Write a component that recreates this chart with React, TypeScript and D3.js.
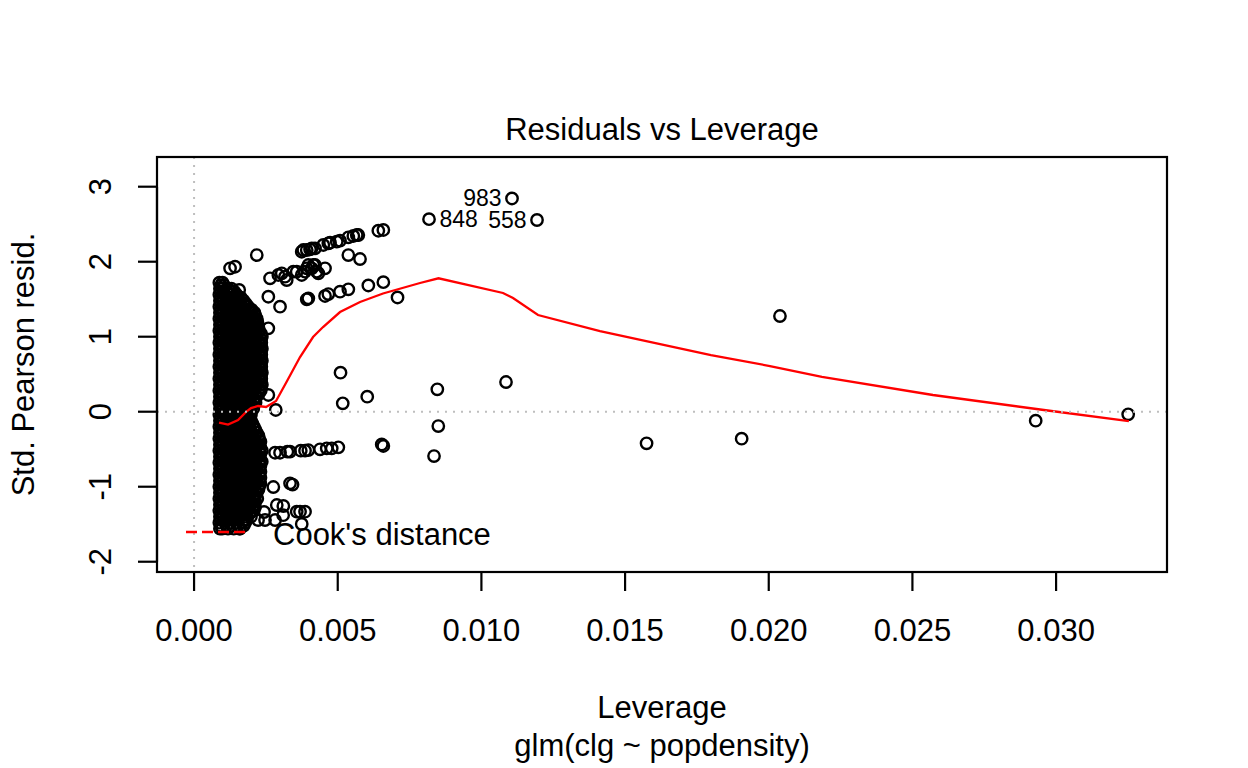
import React from 'react';
import * as d3 from 'd3';

// ---- axis ticks ----
const xTicks = [0, 0.005, 0.01, 0.015, 0.02, 0.025, 0.03];
const xTickLabels = ['0.000', '0.005', '0.010', '0.015', '0.020', '0.025', '0.030'];
const yTicks = [-2, -1, 0, 1, 2, 3];
const yTickLabels = ['-2', '-1', '0', '1', '2', '3'];

// ---- dense cluster of low-leverage observations: [std. Pearson residual, leverages] ----
const clusterRows: [number, number[]][] = [
  [1.72, [0.00088, 0.00099]],
  [1.64, [0.0009, 0.00098, 0.00118, 0.0013]],
  [1.56, [0.00088, 0.00108, 0.00128, 0.00148]],
  [1.48, [0.0009, 0.00098, 0.00118, 0.00138, 0.00158, 0.00172]],
  [1.4, [0.00088, 0.00108, 0.00128, 0.00148, 0.00168, 0.00188]],
  [1.32, [0.0009, 0.00098, 0.00118, 0.00138, 0.00158, 0.00178, 0.00198, 0.0021]],
  [1.24, [0.00088, 0.00108, 0.00128, 0.00148, 0.00168, 0.00188, 0.00208, 0.00218]],
  [1.16, [0.0009, 0.00098, 0.00118, 0.00138, 0.00158, 0.00178, 0.00198, 0.00218, 0.00222]],
  [1.08, [0.00088, 0.00108, 0.00128, 0.00148, 0.00168, 0.00188, 0.00208, 0.00226]],
  [1.0, [0.0009, 0.00098, 0.00118, 0.00138, 0.00158, 0.00178, 0.00198, 0.00218, 0.00236]],
  [0.92, [0.00088, 0.00108, 0.00128, 0.00148, 0.00168, 0.00188, 0.00208, 0.00226, 0.00234]],
  [0.84, [0.0009, 0.00098, 0.00118, 0.00138, 0.00158, 0.00178, 0.00198, 0.00218, 0.00236]],
  [0.76, [0.00088, 0.00108, 0.00128, 0.00148, 0.00168, 0.00188, 0.00208, 0.00226, 0.00234]],
  [0.68, [0.0009, 0.00098, 0.00118, 0.00138, 0.00158, 0.00178, 0.00198, 0.00218, 0.00236]],
  [0.6, [0.00088, 0.00108, 0.00128, 0.00148, 0.00168, 0.00188, 0.00208, 0.00226, 0.00234]],
  [0.52, [0.0009, 0.00098, 0.00118, 0.00138, 0.00158, 0.00178, 0.00198, 0.00218, 0.00236]],
  [0.44, [0.00088, 0.00108, 0.00128, 0.00148, 0.00168, 0.00188, 0.00208, 0.00226, 0.00234]],
  [0.36, [0.0009, 0.00098, 0.00118, 0.00138, 0.00158, 0.00178, 0.00198, 0.00218, 0.00236]],
  [0.28, [0.00088, 0.00108, 0.00128, 0.00148, 0.00168, 0.00188, 0.00208, 0.00226, 0.00232]],
  [0.2, [0.0009, 0.00098, 0.00118, 0.00138, 0.00158, 0.00178, 0.00198, 0.00218]],
  [0.12, [0.00088, 0.00108, 0.00128, 0.00148, 0.00168, 0.00188, 0.00208, 0.00214]],
  [0.04, [0.0009, 0.00098, 0.00118, 0.00138, 0.00158, 0.00178, 0.00198, 0.00206]],
  [-0.04, [0.00088, 0.00108, 0.00128, 0.00148, 0.00168, 0.00188, 0.00198]],
  [-0.12, [0.0009, 0.00098, 0.00118, 0.00138, 0.00158, 0.00178, 0.00198]],
  [-0.2, [0.00088, 0.00108, 0.00128, 0.00148, 0.00168, 0.00188, 0.00208]],
  [-0.28, [0.0009, 0.00098, 0.00118, 0.00138, 0.00158, 0.00178, 0.00198, 0.00218]],
  [-0.36, [0.00088, 0.00108, 0.00128, 0.00148, 0.00168, 0.00188, 0.00208, 0.00226]],
  [-0.44, [0.0009, 0.00098, 0.00118, 0.00138, 0.00158, 0.00178, 0.00198, 0.00218, 0.00226]],
  [-0.52, [0.00088, 0.00108, 0.00128, 0.00148, 0.00168, 0.00188, 0.00208, 0.00226, 0.00236]],
  [-0.6, [0.0009, 0.00098, 0.00118, 0.00138, 0.00158, 0.00178, 0.00198, 0.00218, 0.00226]],
  [-0.68, [0.00088, 0.00108, 0.00128, 0.00148, 0.00168, 0.00188, 0.00208, 0.00226]],
  [-0.76, [0.0009, 0.00098, 0.00118, 0.00138, 0.00158, 0.00178, 0.00198, 0.00218, 0.00226]],
  [-0.84, [0.00088, 0.00108, 0.00128, 0.00148, 0.00168, 0.00188, 0.00208, 0.00226]],
  [-0.92, [0.0009, 0.00098, 0.00118, 0.00138, 0.00158, 0.00178, 0.00198, 0.00218, 0.00226]],
  [-1.0, [0.00088, 0.00108, 0.00128, 0.00148, 0.00168, 0.00188, 0.00208, 0.00226]],
  [-1.08, [0.0009, 0.00098, 0.00118, 0.00138, 0.00158, 0.00178, 0.00198, 0.00218]],
  [-1.16, [0.00088, 0.00108, 0.00128, 0.00148, 0.00168, 0.00188, 0.00208, 0.0022]],
  [-1.24, [0.0009, 0.00098, 0.00118, 0.00138, 0.00158, 0.00178, 0.00198, 0.0021]],
  [-1.32, [0.00088, 0.00108, 0.00128, 0.00148, 0.00168, 0.00188, 0.00208]],
  [-1.4, [0.0009, 0.00098, 0.00118, 0.00138, 0.00158, 0.00178, 0.00198]],
  [-1.48, [0.00088, 0.00108, 0.00128, 0.00148, 0.00168, 0.00178]],
  [-1.56, [0.0009, 0.00098, 0.00118, 0.00138, 0.00158, 0.0016]],
  // in-between rows of the same cluster
  [1.68, [0.00093, 0.00105]],
  [1.6, [0.00093, 0.00113, 0.00133, 0.0014]],
  [1.52, [0.00093, 0.00113, 0.00133, 0.00153, 0.00163]],
  [1.44, [0.00093, 0.00113, 0.00133, 0.00153, 0.00173, 0.0018]],
  [1.36, [0.00093, 0.00113, 0.00133, 0.00153, 0.00173, 0.00193, 0.002]],
  [1.28, [0.00093, 0.00113, 0.00133, 0.00153, 0.00173, 0.00193, 0.00213]],
  [1.2, [0.00093, 0.00113, 0.00133, 0.00153, 0.00173, 0.00193, 0.00213, 0.0022]],
  [1.12, [0.00093, 0.00113, 0.00133, 0.00153, 0.00173, 0.00193, 0.00213, 0.00224]],
  [1.04, [0.00093, 0.00113, 0.00133, 0.00153, 0.00173, 0.00193, 0.00213, 0.00233]],
  [0.96, [0.00093, 0.00113, 0.00133, 0.00153, 0.00173, 0.00193, 0.00213, 0.00233]],
  [0.88, [0.00093, 0.00113, 0.00133, 0.00153, 0.00173, 0.00193, 0.00213, 0.00233]],
  [0.8, [0.00093, 0.00113, 0.00133, 0.00153, 0.00173, 0.00193, 0.00213, 0.00233]],
  [0.72, [0.00093, 0.00113, 0.00133, 0.00153, 0.00173, 0.00193, 0.00213, 0.00233]],
  [0.64, [0.00093, 0.00113, 0.00133, 0.00153, 0.00173, 0.00193, 0.00213, 0.00233]],
  [0.56, [0.00093, 0.00113, 0.00133, 0.00153, 0.00173, 0.00193, 0.00213, 0.00233]],
  [0.48, [0.00093, 0.00113, 0.00133, 0.00153, 0.00173, 0.00193, 0.00213, 0.00233]],
  [0.4, [0.00093, 0.00113, 0.00133, 0.00153, 0.00173, 0.00193, 0.00213, 0.00233]],
  [0.32, [0.00093, 0.00113, 0.00133, 0.00153, 0.00173, 0.00193, 0.00213, 0.00233]],
  [0.24, [0.00093, 0.00113, 0.00133, 0.00153, 0.00173, 0.00193, 0.00213, 0.00225]],
  [0.16, [0.00093, 0.00113, 0.00133, 0.00153, 0.00173, 0.00193, 0.00213]],
  [0.08, [0.00093, 0.00113, 0.00133, 0.00153, 0.00173, 0.00193, 0.00203]],
  [0.0, [0.00093, 0.00113, 0.00133, 0.00153, 0.00173, 0.00193]],
  [-0.08, [0.00093, 0.00113, 0.00133, 0.00153, 0.00173, 0.00193]],
  [-0.16, [0.00093, 0.00113, 0.00133, 0.00153, 0.00173, 0.00193, 0.00203]],
  [-0.24, [0.00093, 0.00113, 0.00133, 0.00153, 0.00173, 0.00193, 0.00213]],
  [-0.32, [0.00093, 0.00113, 0.00133, 0.00153, 0.00173, 0.00193, 0.00213, 0.00224]],
  [-0.4, [0.00093, 0.00113, 0.00133, 0.00153, 0.00173, 0.00193, 0.00213, 0.00231]],
  [-0.48, [0.00093, 0.00113, 0.00133, 0.00153, 0.00173, 0.00193, 0.00213, 0.00231]],
  [-0.56, [0.00093, 0.00113, 0.00133, 0.00153, 0.00173, 0.00193, 0.00213, 0.00231]],
  [-0.64, [0.00093, 0.00113, 0.00133, 0.00153, 0.00173, 0.00193, 0.00213, 0.00231]],
  [-0.72, [0.00093, 0.00113, 0.00133, 0.00153, 0.00173, 0.00193, 0.00213, 0.00231]],
  [-0.8, [0.00093, 0.00113, 0.00133, 0.00153, 0.00173, 0.00193, 0.00213, 0.00231]],
  [-0.88, [0.00093, 0.00113, 0.00133, 0.00153, 0.00173, 0.00193, 0.00213, 0.00231]],
  [-0.96, [0.00093, 0.00113, 0.00133, 0.00153, 0.00173, 0.00193, 0.00213, 0.00231]],
  [-1.04, [0.00093, 0.00113, 0.00133, 0.00153, 0.00173, 0.00193, 0.00213, 0.00224]],
  [-1.12, [0.00093, 0.00113, 0.00133, 0.00153, 0.00173, 0.00193, 0.00213]],
  [-1.2, [0.00093, 0.00113, 0.00133, 0.00153, 0.00173, 0.00193, 0.00213]],
  [-1.28, [0.00093, 0.00113, 0.00133, 0.00153, 0.00173, 0.00193, 0.00203]],
  [-1.36, [0.00093, 0.00113, 0.00133, 0.00153, 0.00173, 0.00193]],
  [-1.44, [0.00093, 0.00113, 0.00133, 0.00153, 0.00173, 0.00183]],
  [-1.52, [0.00093, 0.00113, 0.00133, 0.00153, 0.00173]],
];

// ---- the remaining observations ----
const obsLev = [
  0.001253, 0.001427, 0.002182, 0.00157, 0.002585, 0.002992, 0.002585, 0.002644, 0.002933, 0.003052,
  0.003166, 0.003225, 0.003455, 0.003573, 0.003747, 0.003862, 0.003921, 0.003977, 0.004095, 0.004151,
  0.00421, 0.004269, 0.004325, 0.004558, 0.003747, 0.003803, 0.003921, 0.004036, 0.004095, 0.00421,
  0.004499, 0.004673, 0.004732, 0.004965, 0.00508, 0.005369, 0.005543, 0.005661, 0.005717, 0.006413,
  0.006587, 0.005369, 0.005776, 0.003921, 0.003977, 0.004558, 0.004673, 0.00508, 0.005369, 0.006065,
  0.006587, 0.007081,
  0.002585, 0.002843,
  0.005097, 0.005174, 0.006027, 0.008466, 0.0085, 0.008351, 0.010856, 0.015748, 0.019057, 0.02039,
  0.02929, 0.032509,
  0.002356, 0.002818, 0.002992, 0.003246, 0.00334, 0.003713, 0.003862, 0.003977, 0.004384, 0.004617,
  0.004791, 0.005021, 0.006531, 0.006587,
  0.002759, 0.00334, 0.003427, 0.002122, 0.002878, 0.003107, 0.003573, 0.003688, 0.003862, 0.003747,
  0.002436, 0.002227, 0.00247, 0.00282, 0.0031,
];
const obsRes = [
  1.912, 1.933, 2.089, 1.623, 1.533, 1.4, 1.112, 1.779, 1.823, 1.845,
  1.8, 1.756, 1.867, 1.867, 1.823, 1.867, 1.912, 1.956, 1.912, 1.956,
  1.956, 1.867, 1.845, 1.912, 2.133, 2.156, 2.156, 2.165, 2.179, 2.179,
  2.223, 2.245, 2.253, 2.267, 2.28, 2.325, 2.343, 2.356, 2.356, 2.413,
  2.423, 2.089, 2.036, 1.499, 1.512, 1.543, 1.569, 1.6, 1.632, 1.683,
  1.727, 1.523,
  0.223, 0.023,
  0.52, 0.112, 0.2, 0.299, -0.191, -0.591, 0.396, -0.421, -0.36, 1.276,
  -0.12, -0.035,
  -0.667, -0.547, -0.547, -0.533, -0.533, -0.52, -0.52, -0.511, -0.501, -0.488,
  -0.488, -0.475, -0.437, -0.457,
  -1.004, -0.955, -0.971, -1.271, -1.244, -1.257, -1.333, -1.333, -1.333, -1.497,
  -1.337, -1.444, -1.444, -1.444, -1.38,
];

// ---- labelled (most extreme) observations ----
const idLev = [0.011065, 0.008177, 0.011935];
const idRes = [2.843, 2.567, 2.556];
const idLabels = ['983', '848', '558'];
const idSide = [-1, 1, -1];

// ---- smoother (red line) ----
const smoothLev = [
  0.00087, 0.001183, 0.001531, 0.001844, 0.001983, 0.002227, 0.002505, 0.002853, 0.003236, 0.003688,
  0.004141, 0.004489, 0.00508, 0.005776, 0.006576, 0.007864, 0.008507, 0.010752, 0.0111, 0.01197,
  0.014127, 0.017989, 0.020042, 0.021851, 0.025714, 0.029576, 0.032533,
];
const smoothRes = [
  -0.144, -0.171, -0.111, 0.009, 0.049, 0.076, 0.063, 0.143, 0.409, 0.729,
  0.996, 1.129, 1.329, 1.463, 1.576, 1.716, 1.779, 1.583, 1.516, 1.289,
  1.076, 0.756, 0.609, 0.463, 0.223, 0.023, -0.124,
];

const W = 1248;
const H = 768;
const L = 157, R = 1167, T = 157, B = 572;
const FONT = "'Liberation Sans', Arial, sans-serif";
const FS = 31;

export default function App() {
  const x = d3.scaleLinear().domain([-0.00129, 0.03386]).range([L, R]);
  const y = d3.scaleLinear().domain([-2.137, 3.396]).range([B, T]);

  const pts: { lx: number; ry: number }[] = [];
  clusterRows.forEach(([res, levs]) => levs.forEach((lv) => pts.push({ lx: lv, ry: res })));
  obsLev.forEach((lv, i) => pts.push({ lx: lv, ry: obsRes[i] }));
  idLev.forEach((lv, i) => pts.push({ lx: lv, ry: idRes[i] }));

  const line = d3
    .line<number>()
    .x((d) => x(d))
    .y((_, i) => y(smoothRes[i]));
  const smoothPath = line(smoothLev) || '';

  const tickLen = 19;

  return (
    <svg
      width={W}
      height={H}
      style={{ position: 'fixed', left: 0, top: 0, background: '#fff' }}
      fontFamily={FONT}
    >
      <rect x={0} y={0} width={W} height={H} fill="#fff" />
      <defs>
        <clipPath id="plotclip">
          <rect x={L} y={T} width={R - L} height={B - T} />
        </clipPath>
      </defs>

      {/* points */}
      <g fill="none" stroke="#000" strokeWidth={2.4}>
        {pts.map((p, i) => (
          <circle key={i} cx={x(p.lx)} cy={y(p.ry)} r={5.7} />
        ))}
      </g>

      {/* smoother */}
      <path d={smoothPath} fill="none" stroke="#FF0000" strokeWidth={2.3} clipPath="url(#plotclip)" />

      {/* reference lines */}
      <g stroke="#BEBEBE" strokeWidth={2} strokeDasharray="2 6">
        <line x1={L} x2={R} y1={y(0)} y2={y(0)} />
        <line x1={x(0)} x2={x(0)} y1={T} y2={B} />
      </g>

      {/* id labels */}
      <g fontSize={23} fill="#000">
        {idLabels.map((lab, i) => (
          <text
            key={lab}
            x={x(idLev[i]) + idSide[i] * 10.5}
            y={y(idRes[i]) + 8}
            textAnchor={idSide[i] < 0 ? 'end' : 'start'}
          >
            {lab}
          </text>
        ))}
      </g>

      {/* legend */}
      <line x1={186} x2={245} y1={532} y2={532} stroke="#FF0000" strokeWidth={2.3} strokeDasharray="11 5" />
      <text x={273} y={545} fontSize={FS} fill="#000">
        Cook's distance
      </text>

      {/* box */}
      <rect x={L} y={T} width={R - L} height={B - T} fill="none" stroke="#000" strokeWidth={2.2} />

      {/* x axis */}
      <g stroke="#000" strokeWidth={2.2}>
        <line x1={x(xTicks[0])} x2={x(xTicks[xTicks.length - 1])} y1={B} y2={B} />
        {xTicks.map((t) => (
          <line key={t} x1={x(t)} x2={x(t)} y1={B} y2={B + tickLen} />
        ))}
      </g>
      <g fontSize={FS} fill="#000" textAnchor="middle">
        {xTicks.map((t, i) => (
          <text key={t} x={x(t)} y={641}>
            {xTickLabels[i]}
          </text>
        ))}
      </g>

      {/* y axis */}
      <g stroke="#000" strokeWidth={2.2}>
        <line x1={L} x2={L} y1={y(yTicks[0])} y2={y(yTicks[yTicks.length - 1])} />
        {yTicks.map((t) => (
          <line key={t} x1={L - tickLen} x2={L} y1={y(t)} y2={y(t)} />
        ))}
      </g>
      <g fontSize={FS} fill="#000" textAnchor="middle">
        {yTicks.map((t, i) => (
          <text key={t} transform={`translate(111,${y(t)}) rotate(-90)`}>
            {yTickLabels[i]}
          </text>
        ))}
      </g>

      {/* titles */}
      <text x={(L + R) / 2} y={140} fontSize={FS} textAnchor="middle" fill="#000">
        Residuals vs Leverage
      </text>
      <text x={(L + R) / 2} y={718} fontSize={FS} textAnchor="middle" fill="#000">
        Leverage
      </text>
      <text x={(L + R) / 2} y={756} fontSize={FS} textAnchor="middle" fill="#000">
        glm(clg ~ popdensity)
      </text>
      <text
        transform={`translate(34,${(T + B) / 2}) rotate(-90)`}
        fontSize={FS}
        textAnchor="middle"
        fill="#000"
      >
        Std. Pearson resid.
      </text>
    </svg>
  );
}
